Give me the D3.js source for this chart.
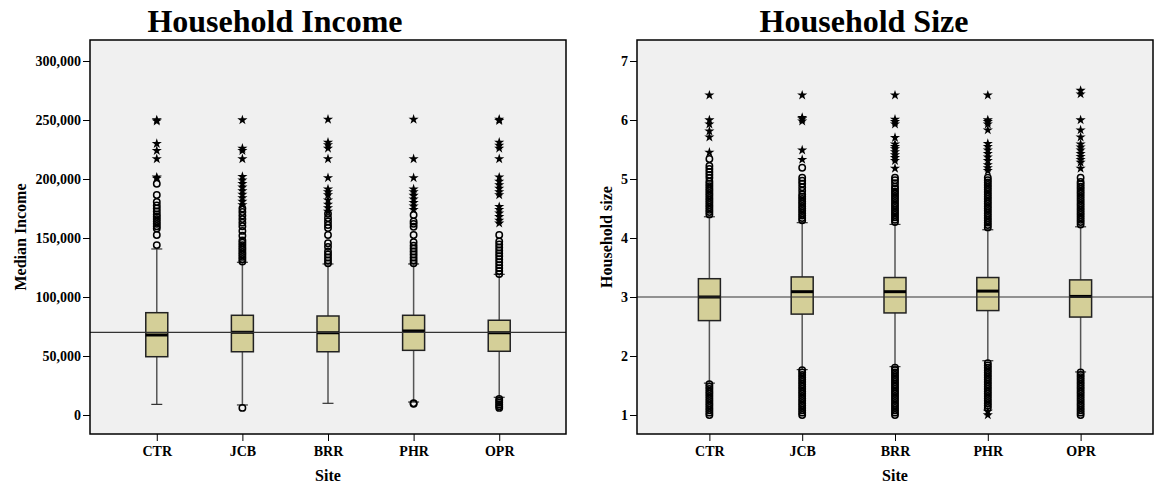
<!DOCTYPE html>
<html>
<head>
<meta charset="utf-8">
<script src="https://cdn.jsdelivr.net/npm/d3@7"></script>
<style>
body { margin: 0; background: #fff; }
text { font-family: "Liberation Serif", "Times New Roman", serif; font-weight: bold; }
</style>
</head>
<body>
<div id="chart"></div>
<script>
// categories
const sites = ["CTR", "JCB", "BRR", "PHR", "OPR"];

// household income box stats (per site)
const incomeLow = [9000, 8500, 9900, 11000, 15000];
const incomeQ1 = [49400, 53600, 53600, 54800, 54000];
const incomeMedian = [67800, 70100, 69700, 71200, 69700];
const incomeQ3 = [86700, 84500, 83900, 84500, 80300];
const incomeHigh = [140700, 129400, 128000, 128000, 119200];
const incomeTicks = [0, 50000, 100000, 150000, 200000, 250000, 300000];
const incomeRef = 70000;

// circles = outliers, stars = extremes
const incomeOutliers = [
    [144000, 152500, 158000, 160000, 162000, 164000, 166000, 168000, 170000, 172500, 175000, 177500, 180500, 186500, 196000],
    [6000, 130000, 132000, 134000, 136000, 138000, 140000, 142000, 144000, 146000, 148000, 152000, 156000, 160000, 163000, 166000, 169000, 172000, 175000],
    [128500, 131000, 133500, 136000, 138500, 142500, 145500, 152500, 158500, 161000, 164000, 167000, 170500],
    [9500, 10000, 128500, 131000, 133500, 136000, 138500, 141000, 143500, 146500, 152500, 159500, 162000, 164000, 169500],
    [6000, 7500, 9000, 10500, 12000, 13500, 119500, 122000, 124500, 127000, 129500, 132000, 134500, 137000, 139500, 142000, 144500, 147000, 152500]
];
const incomeExtremes = [
    [200500, 201500, 217000, 224000, 230000, 249000, 250000],
    [178000, 181000, 184000, 187000, 190000, 193000, 196000, 199000, 202000, 217000, 224000, 226000, 250000],
    [172500, 175500, 178500, 182000, 186500, 189000, 191500, 201000, 217000, 226000, 229000, 231000, 250500],
    [174000, 177000, 180000, 183000, 186000, 189000, 191500, 201000, 217000, 250500],
    [162500, 165000, 168000, 171000, 174000, 176500, 186500, 189000, 192000, 195000, 198000, 201500, 217000, 226000, 228500, 231000, 249500, 250500]
];

// household size box stats (per site)
const sizeLow = [1.54, 1.77, 1.82, 1.92, 1.73];
const sizeQ1 = [2.60, 2.71, 2.73, 2.77, 2.66];
const sizeMedian = [3.00, 3.09, 3.09, 3.10, 3.01];
const sizeQ3 = [3.31, 3.34, 3.33, 3.33, 3.29];
const sizeHigh = [4.36, 4.26, 4.23, 4.14, 4.19];
const sizeTicks = [1, 2, 3, 4, 5, 6, 7];
const sizeRef = 3;

const sizeOutliers = [
    [1.00, 1.04, 1.08, 1.12, 1.16, 1.20, 1.24, 1.28, 1.32, 1.36, 1.40, 1.44, 1.48, 1.52,
     4.40, 4.44, 4.48, 4.52, 4.56, 4.60, 4.64, 4.68, 4.72, 4.76, 4.80, 4.84, 4.88, 4.92, 4.96, 5.02, 5.07, 5.12, 5.17, 5.22, 5.34],
    [1.00, 1.04, 1.08, 1.12, 1.16, 1.20, 1.24, 1.28, 1.32, 1.36, 1.40, 1.44, 1.48, 1.52, 1.56, 1.60, 1.64, 1.68, 1.72, 1.76,
     4.30, 4.34, 4.38, 4.42, 4.46, 4.50, 4.54, 4.58, 4.62, 4.66, 4.70, 4.74, 4.80, 4.86, 4.92, 4.97, 5.02, 5.19],
    [1.00, 1.04, 1.08, 1.12, 1.16, 1.20, 1.24, 1.28, 1.32, 1.36, 1.40, 1.44, 1.48, 1.52, 1.56, 1.60, 1.64, 1.68, 1.72, 1.76, 1.80,
     4.27, 4.31, 4.35, 4.39, 4.43, 4.47, 4.51, 4.55, 4.59, 4.63, 4.67, 4.71, 4.75, 4.79, 4.83, 4.87, 4.93, 4.98, 5.02],
    [1.12, 1.16, 1.20, 1.24, 1.28, 1.32, 1.36, 1.40, 1.44, 1.48, 1.52, 1.56, 1.60, 1.64, 1.68, 1.72, 1.76, 1.80, 1.84, 1.88,
     4.18, 4.22, 4.26, 4.30, 4.34, 4.38, 4.42, 4.46, 4.50, 4.54, 4.58, 4.62, 4.66, 4.70, 4.74, 4.78, 4.82, 4.86, 4.90, 4.94, 4.98, 5.02],
    [1.00, 1.04, 1.08, 1.12, 1.16, 1.20, 1.24, 1.28, 1.32, 1.36, 1.40, 1.44, 1.48, 1.52, 1.56, 1.60, 1.64, 1.68, 1.72,
     4.23, 4.27, 4.31, 4.35, 4.39, 4.43, 4.47, 4.51, 4.55, 4.59, 4.63, 4.67, 4.71, 4.75, 4.79, 4.83, 4.87, 4.91, 4.95, 5.02]
];
const sizeExtremes = [
    [5.45, 5.71, 5.81, 5.93, 6.00, 6.42],
    [5.33, 5.49, 5.98, 6.02, 6.04, 6.42],
    [5.18, 5.31, 5.36, 5.41, 5.46, 5.51, 5.55, 5.59, 5.70, 5.93, 5.97, 6.01, 6.42],
    [1.00, 1.06, 5.14, 5.19, 5.24, 5.31, 5.37, 5.43, 5.49, 5.55, 5.60, 5.83, 5.93, 5.97, 6.00, 6.42],
    [5.18, 5.28, 5.33, 5.38, 5.43, 5.49, 5.54, 5.59, 5.71, 5.83, 6.00, 6.44, 6.50]
];

// layout
const svgWidth = 1155;
const svgHeight = 485;
const plotTop = 40;
const plotBottom = 434;
const boxWidth = 22;

const svg = d3.select("#chart").append("svg")
    .attr("width", svgWidth)
    .attr("height", svgHeight);

function drawPanel(p) {
    const x = d3.scalePoint()
        .domain(sites)
        .range([p.left, p.right])
        .padding(0.78);

    const y = d3.scaleLinear()
        .domain([p.ticks[0], p.ticks[p.ticks.length - 1]])
        .range([415, 61]);

    const rows = sites.map((s, i) => ({
        site: s, low: p.low[i], q1: p.q1[i], med: p.median[i], q3: p.q3[i], high: p.high[i]
    }));

    const points = [];
    sites.forEach((s, i) => {
        p.outliers[i].forEach(v => points.push({ site: s, v: v, type: "circle" }));
        p.extremes[i].forEach(v => points.push({ site: s, v: v, type: "star" }));
    });

    const g = svg.append("g");

    // plot background
    g.append("rect")
        .attr("x", p.left)
        .attr("y", plotTop)
        .attr("width", p.right - p.left)
        .attr("height", plotBottom - plotTop)
        .attr("fill", "#f0f0f0");

    // whisker stems
    g.selectAll(".stem").data(rows).enter().append("line")
        .attr("x1", d => x(d.site)).attr("x2", d => x(d.site))
        .attr("y1", d => y(d.low)).attr("y2", d => y(d.high))
        .attr("stroke", "#555").attr("stroke-width", 1.5);

    // whisker caps
    g.selectAll(".cap").data(rows.flatMap(d => [{ site: d.site, v: d.low }, { site: d.site, v: d.high }]))
        .enter().append("line")
        .attr("x1", d => x(d.site) - boxWidth / 4).attr("x2", d => x(d.site) + boxWidth / 4)
        .attr("y1", d => y(d.v)).attr("y2", d => y(d.v))
        .attr("stroke", "#333").attr("stroke-width", 1.2);

    // boxes
    g.selectAll(".box").data(rows).enter().append("rect")
        .attr("x", d => x(d.site) - boxWidth / 2)
        .attr("y", d => y(d.q3))
        .attr("width", boxWidth)
        .attr("height", d => y(d.q1) - y(d.q3))
        .attr("fill", "#d4cf98")
        .attr("stroke", "#222")
        .attr("stroke-width", 1.5);

    // medians
    g.selectAll(".median").data(rows).enter().append("line")
        .attr("x1", d => x(d.site) - boxWidth / 2).attr("x2", d => x(d.site) + boxWidth / 2)
        .attr("y1", d => y(d.med)).attr("y2", d => y(d.med))
        .attr("stroke", "#000").attr("stroke-width", 3);

    // reference line
    g.append("line")
        .attr("x1", p.left).attr("x2", p.right)
        .attr("y1", y(p.ref)).attr("y2", y(p.ref))
        .attr("stroke", "#333").attr("stroke-width", 1.2);

    // outliers (circles)
    g.selectAll(".out").data(points.filter(d => d.type === "circle")).enter().append("circle")
        .attr("cx", d => x(d.site))
        .attr("cy", d => y(d.v))
        .attr("r", 3.2)
        .attr("fill", "none")
        .attr("stroke", "#000")
        .attr("stroke-width", 1.5);

    // extremes (stars)
    g.selectAll(".ext").data(points.filter(d => d.type === "star")).enter().append("path")
        .attr("d", d3.symbol(d3.symbolStar).size(32))
        .attr("transform", d => `translate(${x(d.site)}, ${y(d.v)})`)
        .attr("fill", "#000");

    // frame
    g.append("rect")
        .attr("x", p.left)
        .attr("y", plotTop)
        .attr("width", p.right - p.left)
        .attr("height", plotBottom - plotTop)
        .attr("fill", "none")
        .attr("stroke", "#000")
        .attr("stroke-width", 1.5);

    // y axis
    const yAxisG = g.append("g")
        .attr("transform", `translate(${p.left}, 0)`)
        .call(d3.axisLeft(y).tickValues(p.ticks).tickSize(7).tickPadding(2).tickFormat(p.fmt));
    yAxisG.select(".domain").remove();
    yAxisG.selectAll("text").attr("font-size", 14).attr("fill", "#000")
        .style("font-family", "'Liberation Serif', serif").style("font-weight", "bold");

    // x axis
    const xAxisG = g.append("g")
        .attr("transform", `translate(0, ${plotBottom})`)
        .call(d3.axisBottom(x).tickSize(7).tickPadding(5));
    xAxisG.select(".domain").remove();
    xAxisG.selectAll("text").attr("font-size", 14).attr("fill", "#000")
        .style("font-family", "'Liberation Serif', serif").style("font-weight", "bold");

    // titles and axis labels
    g.append("text")
        .attr("x", p.titleX).attr("y", 32)
        .attr("text-anchor", "middle")
        .attr("font-size", 32)
        .text(p.title);

    g.append("text")
        .attr("x", (p.left + p.right) / 2).attr("y", 481)
        .attr("text-anchor", "middle")
        .attr("font-size", 16)
        .text("Site");

    g.append("text")
        .attr("transform", `translate(${p.yLabelX}, ${(plotTop + plotBottom) / 2}) rotate(-90)`)
        .attr("text-anchor", "middle")
        .attr("font-size", 16)
        .text(p.yLabel);
}

drawPanel({
    left: 90, right: 566,
    ticks: incomeTicks, fmt: d3.format(","),
    low: incomeLow, q1: incomeQ1, median: incomeMedian, q3: incomeQ3, high: incomeHigh,
    outliers: incomeOutliers, extremes: incomeExtremes,
    ref: incomeRef,
    title: "Household Income", titleX: 275,
    yLabel: "Median Income", yLabelX: 26
});

drawPanel({
    left: 637, right: 1153,
    ticks: sizeTicks, fmt: d3.format("d"),
    low: sizeLow, q1: sizeQ1, median: sizeMedian, q3: sizeQ3, high: sizeHigh,
    outliers: sizeOutliers, extremes: sizeExtremes,
    ref: sizeRef,
    title: "Household Size", titleX: 864,
    yLabel: "Household size", yLabelX: 612
});
</script>
</body>
</html>
